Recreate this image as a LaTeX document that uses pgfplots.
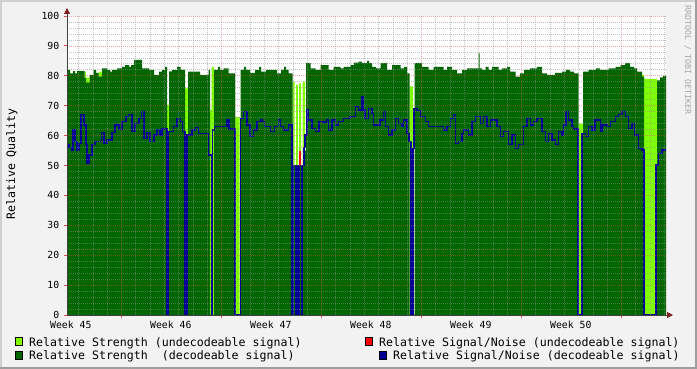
\documentclass[border=0pt]{standalone}
\usepackage{fontspec}
\setmainfont{DejaVu Sans Mono}
\setmonofont{DejaVu Sans Mono}
\usepackage{pgfplots}
\pgfplotsset{compat=1.18}
\usetikzlibrary{arrows.meta}
\definecolor{backc}{rgb}{0.95,0.95,0.95}
\definecolor{shadeA}{rgb}{0.81,0.81,0.81}
\definecolor{shadeB}{rgb}{0.62,0.62,0.62}
\definecolor{gridc}{rgb}{0.56,0.56,0.56}
\definecolor{mgridc}{rgb}{0.87,0.31,0.31}
\definecolor{arrowc}{rgb}{0.5,0.12,0.12}
\definecolor{axisc}{rgb}{0.25,0.25,0.25}
\definecolor{dgreen}{HTML}{006600}
\definecolor{lgreen}{HTML}{80FF00}
\definecolor{snrblue}{HTML}{000096}
\definecolor{snrred}{HTML}{FF0000}
\newcommand\axisfont{\fontsize{9.8bp}{11bp}\selectfont}
\newcommand\legfont{\fontsize{11.6bp}{13bp}\selectfont}
\begin{document}
\begin{tikzpicture}
\useasboundingbox (0,0) rectangle (697bp,369bp);
\fill[backc] (0,0) rectangle (697bp,369bp);
\fill[shadeA] (0,367bp) rectangle (697bp,369bp);
\fill[shadeA] (0,0) rectangle (2bp,369bp);
\fill[shadeB] (0,0) rectangle (697bp,2bp);
\fill[shadeB] (695bp,0) rectangle (697bp,369bp);
\begin{axis}[
  at={(67bp,54bp)}, anchor=south west,
  width=599bp, height=299bp, scale only axis,
  xmin=67, xmax=666, ymin=0, ymax=100,
  axis background/.style={fill=white},
  axis on top,
  axis lines*=left,
  axis line style={draw=axisc, line width=0.9bp},
  x axis line style={-{Triangle[color=arrowc,length=6bp,width=6bp]}, shorten >=-7bp},
  y axis line style={-{Triangle[color=arrowc,length=6bp,width=6bp]}, shorten >=-8bp},
  xtick={121.54,221.54,321.54,421.54,521.54,621.54},
  xticklabels={,,,,,},
  minor xtick={78.69,92.97,107.26,135.83,150.11,164.4,178.69,192.97,207.26,235.83,250.11,264.4,278.69,292.97,307.26,335.83,350.11,364.4,378.69,392.97,407.26,435.83,450.11,464.4,478.69,492.97,507.26,535.83,550.11,564.4,578.69,592.97,607.26,635.83,650.11,664.4},
  extra x ticks={70.8,170.8,270.8,370.8,470.8,570.8},
  extra x tick labels={Week 45,Week 46,Week 47,Week 48,Week 49,Week 50},
  extra x tick style={grid=none, major tick length=0pt},
  ytick={0,10,...,100},
  yticklabels={0,10,20,30,40,50,60,70,80,90,100},
  minor ytick={2,4,6,8,12,14,16,18,22,24,26,28,32,34,36,38,42,44,46,48,52,54,56,58,62,64,66,68,72,74,76,78,82,84,86,88,92,94,96,98},
  grid=both,
  major grid style={draw=mgridc, opacity=0.5, line width=0.7bp, dash pattern=on 1bp off 1bp},
  minor grid style={draw=gridc, opacity=0.55, line width=0.7bp, dash pattern=on 1bp off 1bp},
  major tick length=3bp, minor tick length=0pt, tick align=outside,
  tick style={draw=mgridc, line width=0.8bp},
  /pgf/number format/assume math mode=true,
  xticklabel style={font=\axisfont, anchor=north, inner sep=0pt, yshift=-5.5bp},
  yticklabel style={font=\axisfont, anchor=east, inner sep=0pt, xshift=-4.5bp},
]
\addplot[fill=lgreen, draw=none, const plot mark left] coordinates {
(67,75.5)(68,0)(84.5,81.4)(86,79.4)(89.5,0)(98.5,81.4)(102,0)(167,70.2)(169,0)(185,75.8)(188,0)(210,68.6)(211.5,83)(214,0)(235,66.3)(239.5,0)(292.5,78)(294.5,0)(296,77)(298,0)(299,77.5)(301,0)(302.5,78)(305,0)(409.5,76.5)(413,0)(578.5,64)(583,0)(642,80.4)(644,79)(657,0)(666,0)
} \closedcycle;
\addplot[fill=dgreen, draw=none, const plot mark left] coordinates {
(67,0)(68,82)(70,80.8)(73,81.6)(75,80.8)(77,81.6)(84.5,79.2)(86,77.7)(89.5,80.3)(93.5,82)(96,81)(98.5,79.7)(102,82.5)(107,82)(110,81.4)(112,82)(117,82.5)(122,83)(125,83.6)(129,83)(131,83.6)(134,85.3)(142,82.5)(149,82)(154,80.3)(159,81.4)(162,82)(165,83)(167,0)(169,81.5)(172,82)(177,83)(180.5,82)(185,0)(188,81.4)(200,80.3)(208.5,82)(210,0)(214,82)(218,83)(220,82)(223.5,82.5)(228.5,80.8)(235,0)(240.5,82)(244,83)(246,82)(250,81)(255,82)(259,83)(261,81.4)(266,82)(272,82)(277,80.8)(281,82)(284,83)(286,82)(288.5,80.8)(292.5,0)(293.5,50)(296.5,0)(297.5,50)(298.5,0)(299,50)(302,0)(303,55)(306,84.2)(310.5,82.5)(315.5,82)(320.5,83.6)(328.5,82)(333.5,83)(340.5,82.5)(343.5,83)(350.5,83.6)(354,84.4)(358.5,84.7)(362,84.2)(367,85)(369,84.2)(372,83)(376,82.5)(380.5,84.2)(387,82)(392,83.6)(400.5,82.5)(404,83)(407,80.8)(409.5,0)(414.5,84.2)(422,83)(428.5,82)(433.5,83)(443.5,82)(447,83)(452,82)(457,80.8)(462,82)(467,82.5)(472,82.5)(478.5,87.5)(479.7,82.5)(482,82)(485.5,83)(488.5,82)(492,83)(498.5,82)(502,82.5)(507,83)(510,81.4)(515.5,79.7)(520,80.8)(524,82)(530,82.5)(537,83)(542,80.8)(547,80.3)(555,81)(562,81.4)(566,82)(570,81.4)(574,80.8)(578.5,0)(583,81.4)(588.5,82)(596,82.5)(600,82)(608.5,82.5)(615.5,83)(620.5,83.6)(625,84.2)(630,83)(634,82.5)(637,81.4)(642,79.7)(644,0)(657,78.5)(660,79.5)(663,80)(666,80)
} \closedcycle;
\addplot[draw=snrred, line width=1.5bp] coordinates {(300,50)(300,55)};
\addplot[draw=snrblue, line width=1.3bp, const plot mark left] coordinates {
(67,0)(67.5,57)(69,56)(72,55)(73,62)(75,58)(77,55)(79,57.4)(81,67)(84,63.5)(86,57)(87,50.7)(89,53.5)(92,57)(95,58)(99,58)(101.5,61)(104,57.4)(107,58.5)(112,61)(115,63.5)(119,62)(122,64.7)(126,66.3)(128.5,67)(132,61.3)(135,64)(139,65.8)(141.5,68)(144,59)(147,61)(150,58)(154,60.2)(157,62)(160,60.2)(162,62.2)(167,0)(168,61.3)(173.5,63)(177,65.8)(180.5,64.7)(182.5,61.3)(185,0)(187,60.2)(192,61.9)(195.5,62.7)(198.5,60.8)(208.5,53.5)(211.5,0)(212.5,61.9)(214.5,63)(227,65.2)(229,62.2)(235,0)(240.5,65.8)(243.5,68)(247,63.5)(250,59.6)(253.5,61.9)(257,64.7)(260.5,65.2)(262,64.7)(264.5,63)(270.5,61.3)(274.5,63)(278.5,65.2)(280.5,63)(283.5,61.9)(288.5,63.5)(292,0)(293.5,50)(296,0)(297,50)(298.5,0)(299.5,50)(301.5,0)(302.5,50)(304,56)(305,60.2)(307,68.6)(308.5,65.2)(312,62.4)(315.5,61.3)(319,64.7)(322.5,64.5)(326.5,65.2)(328.5,61.9)(332,65.2)(335.5,63.5)(338.5,64.7)(343.5,65.8)(350,66.3)(355.5,69.7)(358.5,68.6)(362,73)(363.5,68.6)(365,65.8)(368.5,69.1)(372,67.5)(373.5,63.5)(380,65.2)(383.5,68)(385.5,63)(388.5,60.2)(392,61.9)(395.5,65.8)(398.5,64)(402,63)(403.5,65.2)(407,60.8)(409,58)(411,0)(413,55.7)(414,69.1)(417,68.5)(420.5,66.3)(425.5,64.7)(428.5,63)(443.5,61.9)(447,63)(450.5,65.8)(453.5,67)(455.5,57.4)(458.5,58)(462,60.8)(463.5,61.9)(468.5,60.2)(472,64.7)(475.5,66.3)(480.5,64)(483.5,66.3)(487,63)(490.5,65.2)(497,63)(500.5,59.6)(503.5,61.3)(508.5,57)(512,60.2)(515.5,55.7)(518.5,57)(523.5,63)(527,65.8)(530.5,63.5)(533.5,64.7)(537,65.8)(542,61.3)(545.5,58)(548.5,60.8)(552,58.5)(555.5,57)(558.5,61.3)(562,60.2)(563.5,63.5)(566,68)(568.5,65.2)(572,63)(573.5,62.2)(578,0)(582,60.8)(585.5,59.6)(588.5,63)(592,61.9)(595,65.2)(600.5,61.3)(602,63.5)(607,63)(610.5,64.7)(615.5,66.3)(618.5,67)(622,68)(625.5,66.3)(628.5,62.4)(632,64)(634.5,60.2)(638.5,55.7)(642,55.2)(644,0)(656,50.2)(658.5,54)(662,55.2)(666,55.2)
};
\end{axis}
% y label
\node[rotate=90, anchor=base, inner sep=0pt, font=\legfont] at (15bp,205bp) {Relative Quality};
% watermark
\node[rotate=-90, anchor=base, inner sep=0pt, text=black!35, font=\fontsize{8.3bp}{9bp}\selectfont] at (685bp,309bp) {RRDTOOL / TOBI OETIKER};
% legend
\draw[black, line width=0.8bp, fill=lgreen] (15.5bp,23.5bp) rectangle (22.5bp,31.5bp);
\node[anchor=base west, inner sep=0pt, font=\legfont] at (29bp,23bp) {Relative Strength (undecodeable signal)};
\draw[black, line width=0.8bp, fill=dgreen] (15.5bp,10bp) rectangle (22.5bp,18bp);
\node[anchor=base west, inner sep=0pt, font=\legfont] at (29bp,9.5bp) {Relative Strength\ \ (decodeable signal)};
\draw[black, line width=0.8bp, fill=snrred] (365.5bp,23.5bp) rectangle (372.5bp,31.5bp);
\node[anchor=base west, inner sep=0pt, font=\legfont] at (379bp,23bp) {Relative Signal/Noise (undecodeable signal)};
\draw[black, line width=0.8bp, fill=snrblue] (379.5bp,10bp) rectangle (386.5bp,18bp);
\node[anchor=base west, inner sep=0pt, font=\legfont] at (393bp,9.5bp) {Relative Signal/Noise (decodeable signal)};
\end{tikzpicture}
\end{document}
